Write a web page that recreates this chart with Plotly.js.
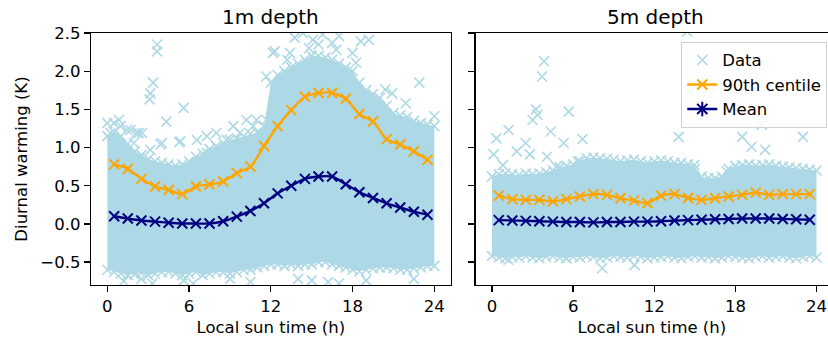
<!DOCTYPE html>
<html>
<head>
<meta charset="utf-8">
<script src="https://cdn.plot.ly/plotly-3.0.1.min.js"></script>
<style>html,body{margin:0;padding:0;background:#fff;}</style>
</head>
<body>
<div id="chart" style="width:828px;height:343px;"></div>
<script>
// Hourly bin centres (h)
const hours = [0.5,1.5,2.5,3.5,4.5,5.5,6.5,7.5,8.5,9.5,10.5,11.5,12.5,13.5,14.5,15.5,16.5,17.5,18.5,19.5,20.5,21.5,22.5,23.5];

// 1m depth
const p90_1m  = [0.78,0.72,0.59,0.49,0.445,0.39,0.49,0.515,0.555,0.665,0.75,1.02,1.28,1.49,1.665,1.715,1.715,1.64,1.44,1.34,1.11,1.04,0.95,0.84];
const mean_1m = [0.10,0.07,0.045,0.03,0.015,0.005,0.005,0.005,0.035,0.095,0.17,0.27,0.40,0.50,0.59,0.62,0.62,0.52,0.415,0.34,0.27,0.215,0.16,0.12];

// 5m depth
const p90_5m  = [0.37,0.325,0.315,0.315,0.295,0.325,0.36,0.39,0.38,0.335,0.305,0.27,0.37,0.39,0.34,0.315,0.335,0.36,0.38,0.41,0.38,0.39,0.39,0.39];
const mean_5m = [0.05,0.045,0.04,0.035,0.03,0.025,0.025,0.02,0.025,0.025,0.03,0.03,0.035,0.045,0.05,0.055,0.06,0.065,0.07,0.07,0.07,0.065,0.06,0.055];

// Envelope of the dense data cloud (read every half hour)
const envX = [0,0.5,1,1.5,2,2.5,3,3.5,4,4.5,5,5.5,6,6.5,7,7.5,8,8.5,9,9.5,10,10.5,11,11.5,12,12.5,13,13.5,14,14.5,15,15.5,16,16.5,17,17.5,18,18.5,19,19.5,20,20.5,21,21.5,22,22.5,23,23.5,24];
const envTop1m = [1.15,1.20,1.15,1.05,0.95,0.90,0.85,0.82,0.80,0.78,0.76,0.78,0.82,0.88,0.92,0.98,1.02,1.06,1.10,1.12,1.15,1.18,1.20,1.28,1.85,1.95,2.00,2.05,2.10,2.15,2.20,2.20,2.18,2.15,2.10,2.05,2.00,1.85,1.75,1.70,1.65,1.55,1.45,1.42,1.40,1.35,1.32,1.30,1.28];
const envBot1m = [-0.60,-0.63,-0.65,-0.67,-0.66,-0.64,-0.67,-0.65,-0.63,-0.63,-0.65,-0.67,-0.65,-0.63,-0.67,-0.65,-0.63,-0.63,-0.65,-0.63,-0.60,-0.60,-0.57,-0.55,-0.53,-0.53,-0.55,-0.53,-0.55,-0.53,-0.53,-0.50,-0.50,-0.53,-0.55,-0.57,-0.60,-0.62,-0.60,-0.58,-0.57,-0.57,-0.58,-0.60,-0.60,-0.58,-0.57,-0.55,-0.55];
const envTop5m = [0.62,0.65,0.66,0.65,0.64,0.66,0.65,0.66,0.68,0.70,0.74,0.76,0.78,0.82,0.86,0.87,0.86,0.85,0.84,0.82,0.83,0.84,0.82,0.80,0.82,0.83,0.82,0.80,0.80,0.78,0.72,0.62,0.60,0.60,0.62,0.72,0.76,0.77,0.78,0.76,0.77,0.78,0.76,0.75,0.74,0.73,0.72,0.71,0.70];
const envBot5m = [-0.42,-0.44,-0.45,-0.43,-0.44,-0.42,-0.44,-0.45,-0.43,-0.42,-0.44,-0.45,-0.43,-0.44,-0.42,-0.43,-0.45,-0.44,-0.42,-0.43,-0.44,-0.42,-0.43,-0.45,-0.44,-0.43,-0.42,-0.44,-0.45,-0.43,-0.42,-0.44,-0.43,-0.45,-0.44,-0.42,-0.43,-0.44,-0.45,-0.43,-0.42,-0.44,-0.43,-0.42,-0.44,-0.45,-0.43,-0.42,-0.44];

// Sparse points outside the dense cloud
const outX1m = [0.0,0.48,0.85,0.97,0.24,1.46,1.7,1.95,2.14,2.31,2.55,3.1,3.16,3.16,3.36,3.65,3.65,3.9,4.0,4.33,5.28,5.35,5.6,6.57,7.3,7.3,8.0,8.0,8.76,9.24,9.73,10.2,10.7,10.95,11.68,11.67,12.16,12.28,13.2,13.4,13.75,14.35,14.8,15.08,15.5,15.8,16.5,16.8,17.0,18.0,18.25,18.6,19.2,20.4,20.9,21.9,22.9,24.0,
                1.2,2.5,3.3,5.6,6.3,9.0,10.5,14.0,15.0,16.2,17.0,19.0,22.5];
const outY1m = [1.32,1.32,1.36,1.28,1.19,1.23,1.23,1.06,1.19,1.19,1.19,1.63,1.71,0.97,1.85,2.35,2.26,1.04,1.06,1.34,1.07,1.08,1.52,1.10,0.93,1.15,1.01,1.19,1.10,1.28,1.19,1.36,1.28,1.36,1.36,1.93,2.24,2.26,2.15,2.24,2.44,2.50,2.30,2.41,2.35,2.48,2.37,2.28,2.46,2.24,2.11,2.39,2.41,1.76,1.71,1.58,1.85,1.41,
                -0.75,-0.72,-0.78,-0.74,-0.78,-0.72,-0.76,-0.72,-0.74,-0.76,-0.78,-0.74,-0.72];
const outX5m = [0.32,1.22,0.12,0.8,1.83,2.49,2.8,3.0,3.24,3.36,3.7,3.85,4.07,4.34,4.75,5.3,5.67,6.33,6.69,13.8,14.43,14.6,14.97,15.8,17.35,18.5,19.2,19.95,20.2,23.0,
                1.22,5.48,8.15,10.54];
const outY5m = [1.12,1.23,0.91,0.77,0.95,1.06,0.91,1.36,1.50,1.43,1.93,2.13,0.88,1.21,0.75,1.06,1.47,0.82,1.11,1.14,2.52,1.72,0.77,1.43,0.69,1.14,1.01,1.30,0.97,1.14,
                -0.47,-0.45,-0.58,-0.54];

const yTicks = [-0.5,0,0.5,1,1.5,2,2.5];
const yTickText = ['\u22120.5','0.0','0.5','1.0','1.5','2.0','2.5'];
const xTicks = [0,6,12,18,24];

const LB = '#add8e6', OR = '#ffa500', NV = '#000080';
const FONT = 'DejaVu Sans, sans-serif';

function cloud(top, bot, xa, ya) {
  const px = envX.concat(envX.slice().reverse());
  const py = top.concat(bot.slice().reverse());
  return [
    {x: px, y: py, xaxis: xa, yaxis: ya, type: 'scatter', mode: 'lines', fill: 'toself',
     fillcolor: LB, line: {width: 0, color: LB}, showlegend: false, hoverinfo: 'skip'},
    {x: envX.concat(envX), y: top.concat(bot), xaxis: xa, yaxis: ya, type: 'scatter', mode: 'markers',
     marker: {symbol: 'x-thin-open', size: 10, color: LB, line: {width: 1.6, color: LB}}, showlegend: false}
  ];
}

const traces = [].concat(
  cloud(envTop1m, envBot1m, 'x', 'y'),
  cloud(envTop5m, envBot5m, 'x2', 'y2'),
  [
    {x: outX1m, y: outY1m, xaxis: 'x', yaxis: 'y', type: 'scatter', mode: 'markers', showlegend: false,
     marker: {symbol: 'x-thin-open', size: 10, color: LB, line: {width: 1.6, color: LB}}},
    {x: outX5m, y: outY5m, xaxis: 'x2', yaxis: 'y2', type: 'scatter', mode: 'markers', name: 'Data', legendrank: 1,
     marker: {symbol: 'x-thin-open', size: 10, color: LB, line: {width: 1.6, color: LB}}},
    {x: hours, y: p90_1m, xaxis: 'x', yaxis: 'y', type: 'scatter', mode: 'lines+markers', showlegend: false,
     line: {color: OR, width: 2.4, shape: 'spline', smoothing: 0.8},
     marker: {symbol: 'x-thin-open', size: 10, color: OR, line: {width: 2, color: OR}}},
    {x: hours, y: mean_1m, xaxis: 'x', yaxis: 'y', type: 'scatter', mode: 'lines+markers', showlegend: false,
     line: {color: NV, width: 2.4, shape: 'spline', smoothing: 0.8},
     marker: {symbol: 'x-thin-open', size: 10, color: NV, line: {width: 2, color: NV}}},
    {x: hours, y: p90_5m, xaxis: 'x2', yaxis: 'y2', type: 'scatter', mode: 'lines+markers', name: '90th centile', legendrank: 2,
     line: {color: OR, width: 2.4, shape: 'spline', smoothing: 0.8},
     marker: {symbol: 'x-thin-open', size: 10, color: OR, line: {width: 2, color: OR}}},
    {x: hours, y: mean_5m, xaxis: 'x2', yaxis: 'y2', type: 'scatter', mode: 'lines+markers', showlegend: false,
     line: {color: NV, width: 2.4, shape: 'spline', smoothing: 0.8},
     marker: {symbol: 'x-thin-open', size: 10, color: NV, line: {width: 2, color: NV}}},
    {x: [null], y: [null], xaxis: 'x2', yaxis: 'y2', type: 'scatter', mode: 'lines+markers', name: 'Mean', legendrank: 3,
     line: {color: NV, width: 2.4},
     marker: {symbol: 'asterisk-open', size: 12, color: NV, line: {width: 2, color: NV}}}
  ]
);

const axCommon = {
  showgrid: false, zeroline: false, showline: true, linecolor: '#000', linewidth: 1.3,
  ticks: 'outside', ticklen: 6, tickwidth: 1.3, tickcolor: '#000', ticklabeloverflow: 'allow',
  tickfont: {family: FONT, size: 16.5, color: '#000'}
};

const layout = {
  width: 828, height: 343,
  margin: {l: 91, r: 0, t: 33, b: 58, pad: 0},
  paper_bgcolor: '#fff', plot_bgcolor: '#fff',
  font: {family: FONT, size: 16.5, color: '#000'},
  xaxis: Object.assign({}, axCommon, {domain: [0, 0.488], range: [-1.2, 25.2], tickvals: xTicks, mirror: true,
    anchor: 'y', title: {text: 'Local sun time (h)', font: {family: FONT, size: 16.5}, standoff: 6}}),
  yaxis: Object.assign({}, axCommon, {domain: [0, 1], range: [-0.8, 2.5], tickvals: yTicks, ticktext: yTickText, mirror: true,
    anchor: 'x', title: {text: 'Diurnal warming (K)', font: {family: FONT, size: 16.5}, standoff: 8}}),
  xaxis2: Object.assign({}, axCommon, {domain: [0.5221, 1], range: [-1.2, 24.85], tickvals: xTicks, mirror: true,
    anchor: 'y2', title: {text: 'Local sun time (h)', font: {family: FONT, size: 16.5}, standoff: 6}}),
  yaxis2: Object.assign({}, axCommon, {domain: [0, 1], range: [-0.8, 2.5], tickvals: yTicks, showticklabels: false,
    mirror: false, anchor: 'x2', matches: 'y'}),
  annotations: [
    {text: '1m depth', xref: 'paper', yref: 'paper', x: 0.2441, y: 1.0635, xanchor: 'center', yanchor: 'middle',
     showarrow: false, font: {family: FONT, size: 20, color: '#000'}},
    {text: '5m depth', xref: 'paper', yref: 'paper', x: 0.7666, y: 1.0635, xanchor: 'center', yanchor: 'middle',
     showarrow: false, font: {family: FONT, size: 20, color: '#000'}}
  ],
  legend: {x: 0.999, xanchor: 'right', y: 0.965, yanchor: 'top', bgcolor: 'rgba(255,255,255,0.85)',
    bordercolor: '#d0d0d0', borderwidth: 1, font: {family: FONT, size: 16.5, color: '#000'}, traceorder: 'normal'},
  showlegend: true
};

Plotly.newPlot('chart', traces, layout, {staticPlot: true, displayModeBar: false});
</script>
</body>
</html>
